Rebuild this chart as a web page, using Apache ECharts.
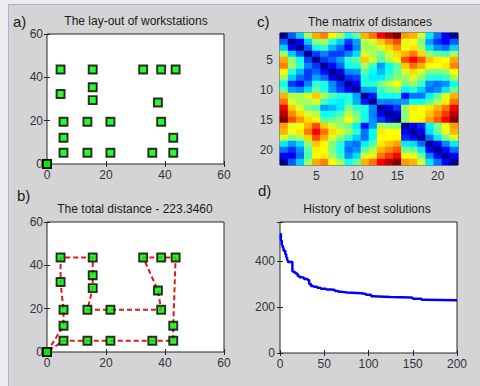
<!DOCTYPE html>
<html><head><meta charset="utf-8">
<script src="https://cdn.jsdelivr.net/npm/echarts@6/dist/echarts.min.js"></script>
<style>
html,body{margin:0;padding:0;background:#ececec;width:480px;height:386px;overflow:hidden;}
#bg{position:absolute;left:8px;top:4px;width:480px;height:390px;background:#d4d4d4;border-top:1.5px solid #9fb7d3;border-left:1.5px solid #9fb7d3;}
#c{position:absolute;left:0;top:0;width:480px;height:386px;}
</style>
</head><body><div id="bg"></div><div id="c"></div>
<script>
// Workstations in visiting order (station 1 and 22 are both at the origin)
const stationX = [0, 5.6, 5.6, 4.6, 4.6, 15.5, 15.5, 15.5, 13.7, 21.5, 38.7, 37.6, 32.6, 38.7, 43.6, 42.8, 42.8, 35.7, 21.5, 13.7, 5.6, 0];
const stationY = [0, 12.1, 19.5, 32.3, 43.6, 43.6, 35.4, 29.5, 19.5, 19.5, 19.5, 28.4, 43.6, 43.6, 43.6, 12.1, 5.2, 5.2, 5.2, 5.2, 5.2, 0];
const stationIds = ['1','2','3','4','5','6','7','8','9','10','11','12','13','14','15','16','17','18','19','20','21','22'];

// Matrix of distances (row = station i, column = station j)
const distanceMatrix = [
  [0,13.3,20.3,32.6,43.8,46.3,38.6,33.3,23.8,29.0,43.3,47.1,54.4,58.3,61.7,44.5,43.1,36.1,22.1,14.7,7.6,0],
  [13.3,0,7.4,20.2,31.5,33.0,25.3,20.0,11.0,17.5,33.9,35.9,41.5,45.7,49.4,37.2,37.8,30.9,17.3,10.6,6.9,13.3],
  [20.3,7.4,0,12.8,24.1,26.1,18.7,14.1,8.1,15.9,33.1,33.2,36.2,40.9,45.0,37.9,39.9,33.3,21.4,16.4,14.3,20.3],
  [32.6,20.2,12.8,0,11.3,15.7,11.3,11.3,15.7,21.2,36.4,33.2,30.2,35.9,40.6,43.2,46.8,41.2,31.9,28.6,27.1,32.6],
  [43.8,31.5,24.1,11.3,0,10.9,13.6,17.8,25.8,29.4,41.8,36.3,28.0,34.1,39.0,49.5,54.2,49.4,42.0,39.5,38.4,43.8],
  [46.3,33.0,26.1,15.7,10.9,0,8.2,14.1,24.2,24.8,33.5,26.8,17.1,23.2,28.1,41.7,47.1,43.4,38.9,38.4,39.7,46.3],
  [38.6,25.3,18.7,11.3,13.6,8.2,0,5.9,16.0,17.0,28.1,23.2,19.0,24.6,29.3,35.9,40.7,36.3,30.8,30.3,31.8,38.6],
  [33.3,20.0,14.1,11.3,17.8,14.1,5.9,0,10.2,11.7,25.3,22.1,22.2,27.1,31.4,32.4,36.5,31.6,25.0,24.4,26.2,33.3],
  [23.8,11.0,8.1,15.7,25.8,24.2,16.0,10.2,0,7.8,25.0,25.5,30.6,34.7,38.4,30.0,32.4,26.2,16.3,14.3,16.4,23.8],
  [29.0,17.5,15.9,21.2,29.4,24.8,17.0,11.7,7.8,0,17.2,18.4,26.5,29.6,32.7,22.6,25.7,20.2,14.3,16.3,21.4,29.0],
  [43.3,33.9,33.1,36.4,41.8,33.5,28.1,25.3,25.0,17.2,0,9.0,24.9,24.1,24.6,8.5,14.9,14.6,22.4,28.8,36.1,43.3],
  [47.1,35.9,33.2,33.2,36.3,26.8,23.2,22.1,25.5,18.4,9.0,0,16.0,15.2,16.3,17.1,23.8,23.3,28.2,33.3,39.5,47.1],
  [54.4,41.5,36.2,30.2,28.0,17.1,19.0,22.2,30.6,26.5,24.9,16.0,0,6.1,11.0,33.1,39.7,38.5,40.0,42.8,46.9,54.4],
  [58.3,45.7,40.9,35.9,34.1,23.2,24.6,27.1,34.7,29.6,24.1,15.2,6.1,0,4.9,31.8,38.6,38.5,42.1,45.8,50.7,58.3],
  [61.7,49.4,45.0,40.6,39.0,28.1,29.3,31.4,38.4,32.7,24.6,16.3,11.0,4.9,0,31.5,38.4,39.2,44.3,48.7,54.0,61.7],
  [44.5,37.2,37.9,43.2,49.5,41.7,35.9,32.4,30.0,22.6,8.5,17.1,33.1,31.8,31.5,0,6.9,9.9,22.4,29.9,37.8,44.5],
  [43.1,37.8,39.9,46.8,54.2,47.1,40.7,36.5,32.4,25.7,14.9,23.8,39.7,38.6,38.4,6.9,0,7.1,21.3,29.1,37.2,43.1],
  [36.1,30.9,33.3,41.2,49.4,43.4,36.3,31.6,26.2,20.2,14.6,23.3,38.5,38.5,39.2,9.9,7.1,0,14.2,22.0,30.1,36.1],
  [22.1,17.3,21.4,31.9,42.0,38.9,30.8,25.0,16.3,14.3,22.4,28.2,40.0,42.1,44.3,22.4,21.3,14.2,0,7.8,15.9,22.1],
  [14.7,10.6,16.4,28.6,39.5,38.4,30.3,24.4,14.3,16.3,28.8,33.3,42.8,45.8,48.7,29.9,29.1,22.0,7.8,0,8.1,14.7],
  [7.6,6.9,14.3,27.1,38.4,39.7,31.8,26.2,16.4,21.4,36.1,39.5,46.9,50.7,54.0,37.8,37.2,30.1,15.9,8.1,0,7.6],
  [0,13.3,20.3,32.6,43.8,46.3,38.6,33.3,23.8,29.0,43.3,47.1,54.4,58.3,61.7,44.5,43.1,36.1,22.1,14.7,7.6,0]
];

// History of best solutions (iteration where the best value changes, and the value)
const historyIter = [0, 1, 2, 3, 4, 6, 7, 8, 9, 14, 16, 18, 20, 22, 25, 27, 31, 33, 35, 38, 42, 46, 52, 58, 62, 66, 70, 76, 92, 97, 103, 105, 125, 148, 150, 160, 163, 200];
const historyBest = [518, 490, 470, 458, 445, 430, 418, 405, 396, 355, 350, 345, 335, 330, 328, 322, 318, 300, 292, 288, 284, 280, 276, 274, 270, 266, 263, 260, 257, 253, 247, 244, 242, 240, 236, 232, 230, 230];

const layoutTicks = [0, 20, 40, 60];
const matrixTicks = [5, 10, 15, 20];
const historyXTicks = [0, 50, 100, 150, 200];
const historyYTicks = [0, 200, 400];

const panelLetters = ['a)', 'b)', 'c)', 'd)'];
const panelTitles = ['The lay-out of workstations', 'The total distance - 223.3460', 'The matrix of distances', 'History of best solutions'];

const FONT = "'Liberation Sans', Arial, Helvetica, sans-serif";
const LAB = '#333340';
const AX = '#262626';

const chart = echarts.init(document.getElementById('c'), null, {renderer: 'svg', width: 480, height: 386});

const grids = [
  {left: 47, top: 34, width: 177, height: 130},
  {left: 47, top: 222, width: 177, height: 130},
  {left: 280, top: 33, width: 178, height: 132},
  {left: 280, top: 222, width: 177, height: 131}
].map((g, i) => Object.assign({show: true, backgroundColor: i === 2 ? 'transparent' : '#ffffff', borderColor: AX, borderWidth: 1, containLabel: false, z: 0}, g));

function valAxis(gi, pos, min, max, interval, ticks, showLabel, margin) {
  return {
    gridIndex: gi, type: 'value', position: pos, min: min, max: max, interval: interval,
    axisLine: {show: false},
    axisTick: {show: true, inside: true, length: 3, lineStyle: {color: AX, width: 1}},
    splitLine: {show: false},
    axisLabel: {show: showLabel, margin: margin, color: LAB, fontSize: 12, fontFamily: FONT,
      showMaxLabel: true,
      formatter: function (v) { return ticks.indexOf(v) >= 0 ? String(v) : ''; }}
  };
}
function catAxis(gi, pos, showLabel, margin, inverse) {
  const pick = function (idx, v) { return matrixTicks.indexOf(Number(v)) >= 0; };
  return {
    gridIndex: gi, type: 'category', position: pos, data: stationIds, inverse: !!inverse,
    axisLine: {show: false},
    axisTick: {show: true, inside: true, length: 3, alignWithLabel: true, interval: pick, lineStyle: {color: AX}},
    splitLine: {show: false},
    axisLabel: {show: showLabel, interval: pick, margin: margin, color: LAB, fontSize: 12, fontFamily: FONT}
  };
}

const xAxes = [
  valAxis(0, 'bottom', 0, 60, 20, layoutTicks, true, 5),
  valAxis(0, 'top', 0, 60, 20, layoutTicks, false, 5),
  valAxis(1, 'bottom', 0, 60, 20, layoutTicks, true, 5),
  valAxis(1, 'top', 0, 60, 20, layoutTicks, false, 5),
  catAxis(2, 'bottom', true, 5, false),
  catAxis(2, 'top', false, 5, false),
  valAxis(3, 'bottom', 0, 200, 50, historyXTicks, true, 5),
  valAxis(3, 'top', 0, 200, 50, historyXTicks, false, 5)
];
const yAxes = [
  valAxis(0, 'left', 0, 60, 20, layoutTicks, true, 4),
  valAxis(0, 'right', 0, 60, 20, layoutTicks, false, 4),
  valAxis(1, 'left', 0, 60, 20, layoutTicks, true, 4),
  valAxis(1, 'right', 0, 60, 20, layoutTicks, false, 4),
  catAxis(2, 'left', true, 7, true),
  catAxis(2, 'right', false, 7, true),
  valAxis(3, 'left', 0, 570, 200, historyYTicks, true, 5),
  valAxis(3, 'right', 0, 570, 200, historyYTicks, false, 5)
];

const points = stationX.map((x, i) => [x, stationY[i]]);
const heatData = [];
distanceMatrix.forEach((row, r) => row.forEach((v, c) => heatData.push([c, r, v])));
const historyData = historyIter.map((x, i) => [x, historyBest[i]]);

const markerStyle = {color: '#00f000', borderColor: '#000000', borderWidth: 1.9};

const textEls = [];
const letterPos = [[13, 21.5], [17, 195], [257, 21], [258, 190]];
panelLetters.forEach((t, i) => textEls.push({type: 'text', x: letterPos[i][0], y: letterPos[i][1],
  style: {text: t, font: '15px ' + FONT, fill: '#1a1a1a', align: 'left', verticalAlign: 'middle'}}));
const titlePos = [[136, 20.5], [135, 208.5], [370, 21.5], [367, 208.5]];
panelTitles.forEach((t, i) => textEls.push({type: 'text', x: titlePos[i][0], y: titlePos[i][1],
  style: {text: t, font: '12px ' + FONT, fill: '#1a1a1a', align: 'center', verticalAlign: 'middle'}}));

chart.setOption({
  animation: false,
  backgroundColor: 'transparent',
  grid: grids,
  xAxis: xAxes,
  yAxis: yAxes,
  visualMap: {
    show: false, type: 'continuous', min: 0, max: 61.7, seriesIndex: 3, dimension: 2,
    inRange: {color: ['#00008f', '#0000ff', '#0080ff', '#00ffff', '#80ff80', '#ffff00', '#ff8000', '#ff0000', '#800000']}
  },
  graphic: {elements: textEls},
  series: [
    {type: 'scatter', xAxisIndex: 0, yAxisIndex: 0, data: points, symbol: 'rect', symbolSize: 8,
      itemStyle: markerStyle, clip: false, z: 5},
    {type: 'line', xAxisIndex: 2, yAxisIndex: 2, data: points, showSymbol: false, symbol: 'none',
      lineStyle: {color: '#e8141e', width: 2, type: [5, 3]}, clip: false, z: 3},
    {type: 'scatter', xAxisIndex: 2, yAxisIndex: 2, data: points, symbol: 'rect', symbolSize: 8,
      itemStyle: markerStyle, clip: false, z: 5},
    {type: 'heatmap', xAxisIndex: 4, yAxisIndex: 4, data: heatData, itemStyle: {borderWidth: 0},
      emphasis: {disabled: true}, z: 1},
    {type: 'line', xAxisIndex: 6, yAxisIndex: 6, data: historyData, step: 'end', showSymbol: false, symbol: 'none',
      lineStyle: {color: '#0000ff', width: 2.5}, z: 3}
  ]
});
</script>
</body></html>
